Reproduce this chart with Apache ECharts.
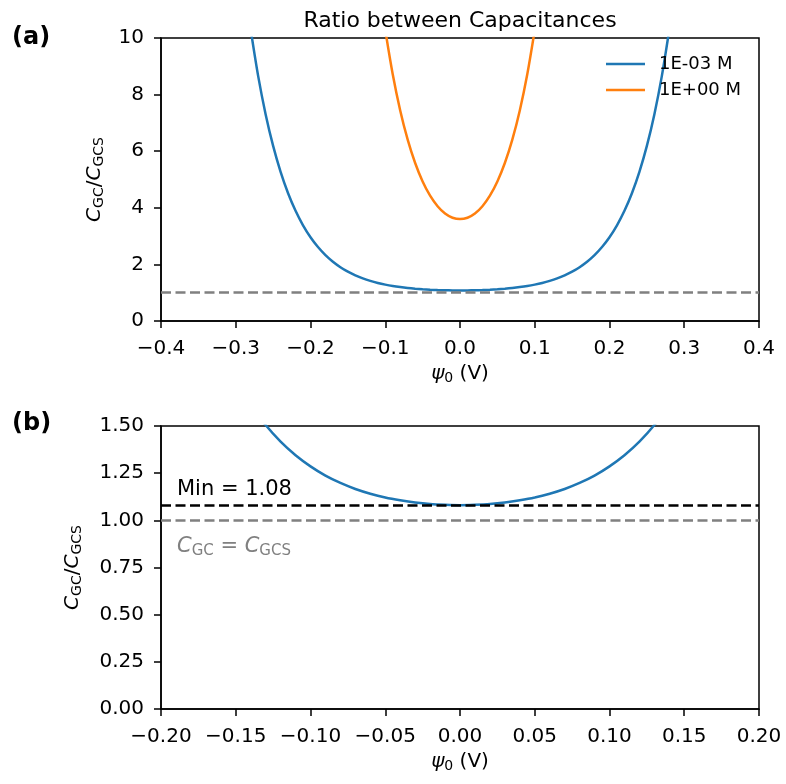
<!DOCTYPE html>
<html>
<head>
<meta charset="utf-8">
<script src="https://cdn.jsdelivr.net/npm/echarts@6/dist/echarts.min.js"></script>
<style>
html,body{margin:0;padding:0;background:#fff;}
#chart{width:786px;height:784px;}
</style>
</head>
<body>
<div id="chart"></div>
<script>
// ---- data ----
const psiLow = [-0.28,-0.27,-0.26,-0.25,-0.24,-0.23,-0.22,-0.21,-0.20,-0.19,-0.18,-0.17,-0.16,-0.15,-0.14,-0.13,-0.12,-0.11,-0.10,-0.09,-0.08,-0.07,-0.06,-0.05,-0.04,-0.03,-0.02,-0.01,0.00,
  0.01,0.02,0.03,0.04,0.05,0.06,0.07,0.08,0.09,0.10,0.11,0.12,0.13,0.14,0.15,0.16,0.17,0.18,0.19,0.20,0.21,0.22,0.23,0.24,0.25,0.26,0.27,0.28];
const ratio1mM = [10.296,8.653,7.300,6.186,5.269,4.514,3.893,3.382,2.961,2.614,2.329,2.095,1.902,1.743,1.613,1.505,1.417,1.345,1.286,1.237,1.198,1.166,1.141,1.121,1.106,1.094,1.086,1.082,1.080,
  1.082,1.086,1.094,1.106,1.121,1.141,1.166,1.198,1.237,1.286,1.345,1.417,1.505,1.613,1.743,1.902,2.095,2.329,2.614,2.961,3.382,3.893,4.514,5.269,6.186,7.300,8.653,10.296];
const psiHigh = [-0.10,-0.09,-0.08,-0.07,-0.06,-0.05,-0.04,-0.03,-0.02,-0.01,0.00,0.01,0.02,0.03,0.04,0.05,0.06,0.07,0.08,0.09,0.10];
const ratio1M = [10.285,8.717,7.440,6.409,5.583,4.931,4.428,4.056,3.799,3.649,3.600,3.649,3.799,4.056,4.428,4.931,5.583,6.409,7.440,8.717,10.285];
const seriesNames = ['1E-03 M','1E+00 M'];
const minRatio = 1.08;
const equalRatio = 1.0;
const topXTicks = {min:-0.4, max:0.4, interval:0.1};
const topYTicks = {min:0, max:10, interval:2};
const botXTicks = {min:-0.2, max:0.2, interval:0.05};
const botYTicks = {min:0, max:1.5, interval:0.25};

// ---- rendering ----
const FONT = 'DejaVu Sans';
const FS = 20;
const BLUE = '#1f77b4', ORANGE = '#ff7f0e', GRAY = '#808080';
const pairs = (xs, ys) => xs.map((x,i)=>[x, ys[i]]);
const fmt = d => v => { const r = Math.round(v*1e6)/1e6; return (r<0?'\u2212':'') + Math.abs(r).toFixed(d); };

const ratioName = '{c|C}{s|GC}{n|/}{c|C}{s|GCS}';
const ratioRich = {
  c:{fontFamily:FONT,fontSize:FS,fontStyle:'italic',color:'#000'},
  s:{fontFamily:FONT,fontSize:14,color:'#000',padding:[8,0,0,0]},
  n:{fontFamily:FONT,fontSize:FS,color:'#000'}
};
const psiName = '{p|ψ}{s|0}{n| (V)}';
const psiRich = {
  p:{fontFamily:FONT,fontSize:FS,fontStyle:'italic',color:'#000'},
  s:{fontFamily:FONT,fontSize:14,color:'#000',padding:[8,0,0,0]},
  n:{fontFamily:FONT,fontSize:FS,color:'#000'}
};

function xAxis(gi, t, d){
  return {type:'value', gridIndex:gi, min:t.min, max:t.max, interval:t.interval,
    axisLine:{show:true, onZero:false, lineStyle:{color:'#000',width:1.5}},
    axisTick:{show:true, inside:false, length:7, lineStyle:{color:'#000',width:1.5}},
    axisLabel:{formatter:fmt(d), fontFamily:FONT, fontSize:FS, color:'#000', margin:18, showMinLabel:true, showMaxLabel:true},
    splitLine:{show:false},
    name:psiName, nameLocation:'middle', nameGap:42, nameMoveOverlap:false, nameTextStyle:{rich:psiRich}};
}
function yAxis(gi, t, d, gap){
  return {type:'value', gridIndex:gi, min:t.min, max:t.max, interval:t.interval,
    axisLine:{show:true, onZero:false, lineStyle:{color:'#000',width:1.5}},
    axisTick:{show:true, inside:false, length:7, lineStyle:{color:'#000',width:1.5}},
    axisLabel:{formatter:fmt(d), fontFamily:FONT, fontSize:FS, color:'#000', margin:17, showMinLabel:true, showMaxLabel:true},
    splitLine:{show:false},
    name:ratioName, nameLocation:'middle', nameRotate:90, nameGap:gap, nameMoveOverlap:false, nameTextStyle:{rich:ratioRich}};
}

const dashed = [10,4.5];

const option = {
  animation:false,
  grid:[
    {left:161, top:38, width:598, height:283, show:true, borderColor:'#000', borderWidth:1.5, backgroundColor:'#fff'},
    {left:161, top:426, width:598, height:283, show:true, borderColor:'#000', borderWidth:1.5, backgroundColor:'#fff'}
  ],
  xAxis:[xAxis(0, topXTicks, 1), xAxis(1, botXTicks, 2)],
  yAxis:[yAxis(0, topYTicks, 0, 55), yAxis(1, botYTicks, 2, 77)],
  legend:{
    data:seriesNames, orient:'vertical', left:606, top:55, padding:0, icon:'rect', itemWidth:39, itemHeight:2.5, itemGap:8,
    textStyle:{fontFamily:FONT, fontSize:18, color:'#000', padding:[0,0,0,9]}
  },
  graphic:[
    {type:'text', x:460, y:21, style:{text:'Ratio between Capacitances', fontFamily:FONT, fontSize:22, fill:'#000', textAlign:'center', textVerticalAlign:'middle'}},
    {type:'text', x:12, y:38, style:{text:'(a)', fontFamily:FONT, fontSize:24, fontWeight:'bold', fill:'#000', textAlign:'left', textVerticalAlign:'middle'}},
    {type:'text', x:12, y:424, style:{text:'(b)', fontFamily:FONT, fontSize:24, fontWeight:'bold', fill:'#000', textAlign:'left', textVerticalAlign:'middle'}}
  ],
  series:[
    {name:seriesNames[0], type:'line', xAxisIndex:0, yAxisIndex:0, data:pairs(psiLow, ratio1mM), symbol:'none', smooth:0.3, clip:true,
      lineStyle:{color:BLUE, width:2.5}, itemStyle:{color:BLUE}, z:3,
      markLine:{silent:true, symbol:['none','none'], animation:false,
        data:[{yAxis:equalRatio}], lineStyle:{color:GRAY, type:dashed, width:2.5}, label:{show:false}}},
    {name:seriesNames[1], type:'line', xAxisIndex:0, yAxisIndex:0, data:pairs(psiHigh, ratio1M), symbol:'none', smooth:0.3, clip:true,
      lineStyle:{color:ORANGE, width:2.5}, itemStyle:{color:ORANGE}, z:3},
    {name:seriesNames[0], type:'line', xAxisIndex:1, yAxisIndex:1, data:pairs(psiLow, ratio1mM), symbol:'none', smooth:0.3, clip:true,
      lineStyle:{color:BLUE, width:2.5}, itemStyle:{color:BLUE}, z:3,
      markLine:{silent:true, symbol:['none','none'], animation:false,
        data:[
          {yAxis:minRatio, lineStyle:{color:'#000', type:dashed, width:2.5},
            label:{show:true, position:'insideStartTop', distance:[16,5], formatter:'Min = ' + minRatio.toFixed(2), fontFamily:FONT, fontSize:21, color:'#000'}},
          {yAxis:equalRatio, lineStyle:{color:GRAY, type:dashed, width:2.5},
            label:{show:true, position:'insideStartBottom', distance:[16,15], formatter:'{c|C}{s|GC}{n| = }{c|C}{s|GCS}',
              rich:{
                c:{fontFamily:FONT,fontSize:21,fontStyle:'italic',color:GRAY},
                s:{fontFamily:FONT,fontSize:15,color:GRAY,padding:[8,0,0,0]},
                n:{fontFamily:FONT,fontSize:21,color:GRAY}
              }}}
        ]}}
  ]
};
const chart = echarts.init(document.getElementById('chart'), null, {renderer:'canvas'});
chart.setOption(option);
</script>
</body>
</html>
